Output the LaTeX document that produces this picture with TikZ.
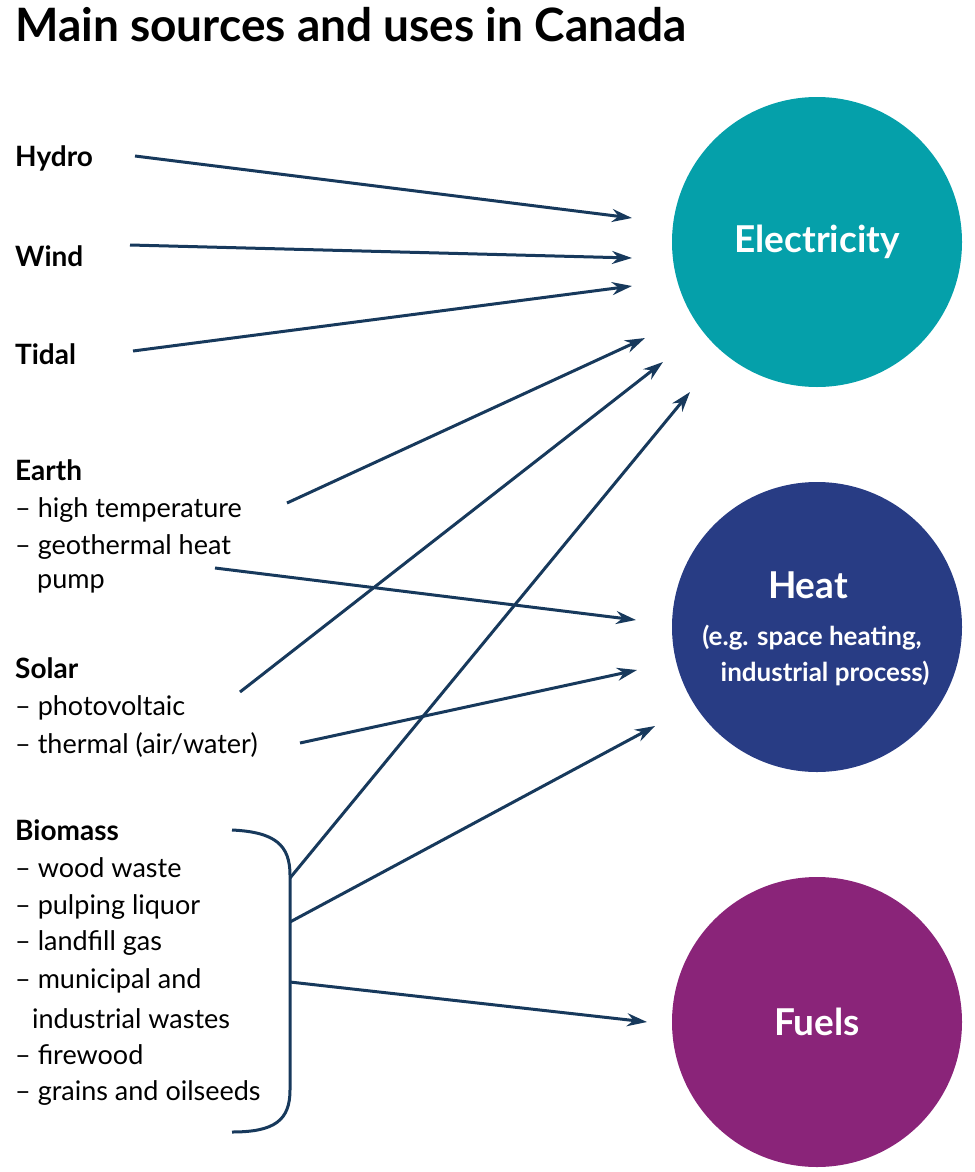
\documentclass[tikz,border=0pt]{standalone}
\usepackage{fontspec}
\setmainfont{Lato}
\usetikzlibrary{arrows.meta}
\definecolor{navy}{HTML}{17395C}
\definecolor{elec}{HTML}{05A0AA}
\definecolor{heat}{HTML}{283C84}
\definecolor{fuel}{HTML}{8A2479}
\tikzset{
 lab/.style={anchor=west,inner sep=0pt,font=\fontsize{27}{30}\selectfont},
 head/.style={lab,font=\fontsize{28}{30}\selectfont\bfseries},
 arr/.style={navy,line width=3pt,-{Stealth[length=20pt,width=13pt]}},
 use/.style={circle,minimum size=290pt,inner sep=0pt,text=white,font=\fontsize{37}{40}\selectfont\bfseries,align=center}
}
\begin{document}
\begin{tikzpicture}[x=1pt,y=-1pt]
\useasboundingbox (0,0) rectangle (974,1172);
\node[anchor=west,inner sep=0pt,font=\fontsize{46}{50}\selectfont\bfseries] (title) at (15,25) {Main sources and uses in Canada};
\node[use,fill=elec] (el) at (817,242) {Electricity};
\node[use,fill=heat] (ht) at (817,627) {};
\node[text=white,font=\fontsize{37}{40}\selectfont\bfseries] (htt) at (808,585) {Heat};
\node[text=white,font=\fontsize{26}{36}\selectfont\bfseries,align=center] (hts) at (812,655) {(e.g. space heating,\\ \hspace*{1em}industrial process)};
\node[use,fill=fuel] (fu) at (817,1022) {Fuels};
\node[head] (hy) at (15,158) {Hydro};
\node[head] (wi) at (15,256) {Wind};
\node[head] (ti) at (15,354) {Tidal};
\node[head] (ea) at (15,470) {Earth};
\node[lab] (e1) at (15,510) {– high temperature};
\node[lab] (e2) at (15,547) {– geothermal heat};
\node[lab] (e3) at (37,584) {pump};
\node[head] (so) at (15,668) {Solar};
\node[lab] (s1) at (15,708) {– photovoltaic};
\node[lab] (s2) at (15,745) {– thermal (air/water)};
\node[head] (bi) at (15,830) {Biomass};
\node[lab] (b1) at (15,868) {– wood waste};
\node[lab] (b2) at (15,907) {– pulping liquor};
\node[lab] (b3) at (15,943) {– landfill gas};
\node[lab] (b4) at (15,981) {– municipal and};
\node[lab] (b5) at (32,1019) {industrial wastes};
\node[lab] (b6) at (15,1055) {– firewood};
\node[lab] (b7) at (15,1093) {– grains and oilseeds};
\coordinate (h1) at (632,218); \coordinate (h2) at (632,258); \coordinate (h3) at (632,286);
\coordinate (h4) at (645,338); \coordinate (h5) at (663,362); \coordinate (h6) at (690,392);
\coordinate (q1) at (636,620); \coordinate (q2) at (637,670); \coordinate (q3) at (655,726);
\coordinate (f1) at (647,1022);
\coordinate (bA) at (290,878); \coordinate (bB) at (290,922); \coordinate (bC) at (290,982);
\draw[arr] (135,156) coordinate (hyE) -- (h1);
\draw[arr] (130,245) coordinate (wiE) -- (h2);
\draw[arr] (133,351) coordinate (tiE) -- (h3);
\draw[arr] (287,503) coordinate (e1E) -- (h4);
\draw[arr] (215,568) coordinate (e2E) -- (q1);
\draw[arr] (240,692) coordinate (s1E) -- (h5);
\draw[arr] (300,743) coordinate (s2E) -- (q2);
\draw[arr] (bA) -- (h6);
\draw[arr] (bB) -- (q3);
\draw[arr] (bC) -- (f1);
\draw[navy,line width=3pt] (232,830) .. controls (275,832) and (290,845) .. (290,875) -- (290,1090) .. controls (290,1120) and (275,1132) .. (232,1132);
\end{tikzpicture}
\end{document}
